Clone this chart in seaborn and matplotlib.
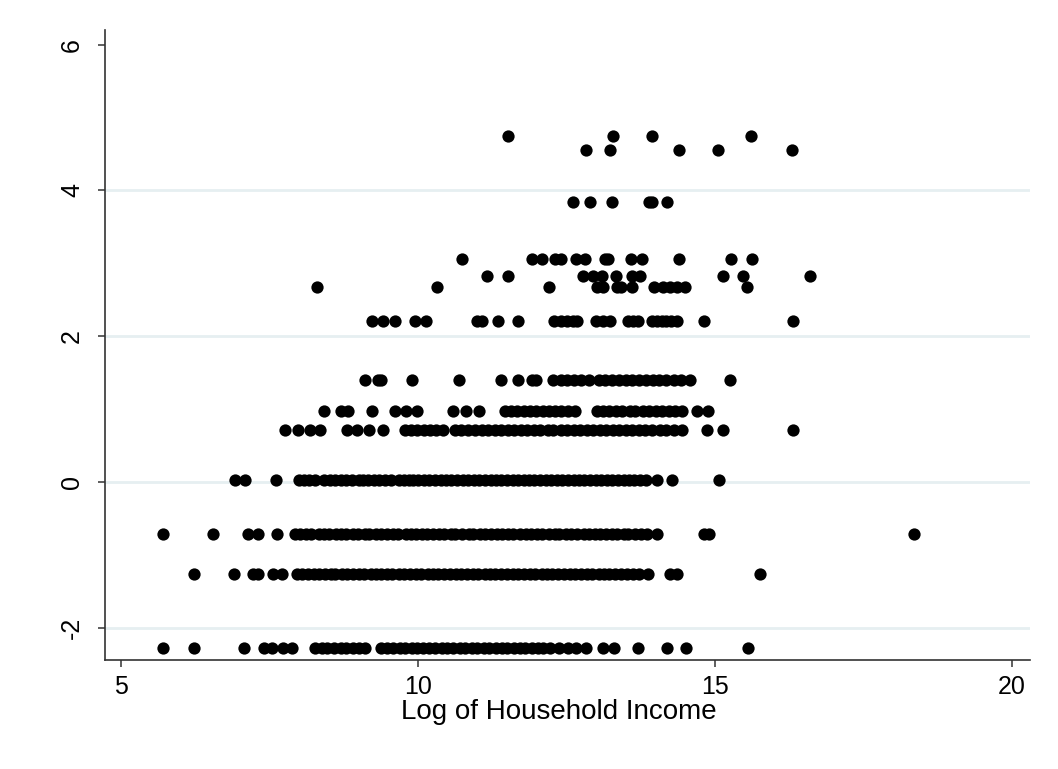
import pandas as pd
import matplotlib
matplotlib.use("Agg")
import matplotlib.pyplot as plt
import seaborn as sns

# rows of the scatter: y level and the x values
y_levels = [4.75, 4.56, 3.84, 3.06, 2.82, 2.68, 2.21, 1.40, 0.98, 0.72, 0.03, -0.71, -1.26, -2.27]

x_475 = [11.52, 13.28, 13.94, 15.60]
x_456 = [12.83, 13.23, 14.39, 15.05, 16.30]
x_384 = [12.61, 12.90, 13.27, 13.88, 13.93, 14.19]
x_306 = [10.74, 11.92, 12.08, 12.31, 12.40, 12.66, 12.81, 13.15, 13.20, 13.58, 13.77,
         14.39, 15.27, 15.62]
x_282 = [11.16, 11.52, 12.78, 12.95, 13.10, 13.33, 13.60, 13.74, 15.13, 15.47, 16.60]
x_268 = [8.30, 10.32, 12.20, 13.01, 13.11, 13.35, 13.42, 13.60, 13.98, 14.12, 14.24,
         14.36, 14.50, 15.54]
x_221 = [9.23, 9.41, 9.61, 9.95, 10.13, 10.99, 11.08, 11.35, 11.68, 12.29, 12.40, 12.50,
         12.60, 12.68, 13.00, 13.12, 13.23, 13.53, 13.62, 13.70, 13.94, 14.02, 14.10,
         14.18, 14.25, 14.36, 14.81, 16.31]
x_140 = [9.11, 9.32, 9.38, 9.90, 10.69, 11.40, 11.68, 11.92, 11.98, 12.27, 12.40, 12.50,
         12.62, 12.75, 12.88, 13.05, 13.15, 13.26, 13.38, 13.50, 13.60, 13.72, 13.84,
         13.95, 14.05, 14.18, 14.30, 14.42, 14.58, 15.25]
x_098 = [8.42, 8.70, 8.82, 9.23, 9.61, 9.80, 9.98, 10.59, 10.80, 11.02, 11.46, 11.56,
         11.66, 11.78, 11.88, 11.98, 12.10, 12.20, 12.30, 12.40, 12.52, 12.64, 13.01,
         13.12, 13.22, 13.34, 13.44, 13.56, 13.66, 13.78, 13.88, 14.00, 14.10, 14.22,
         14.32, 14.44, 14.70, 14.88]
x_072 = [7.76, 7.98, 8.18, 8.35, 8.80, 8.97, 9.18, 9.41, 9.78, 9.88, 9.98, 10.10, 10.20,
         10.30, 10.42, 10.62, 10.72, 10.84, 10.96, 11.08, 11.18, 11.30, 11.40, 11.52,
         11.62, 11.74, 11.84, 11.96, 12.06, 12.18, 12.28, 12.40, 12.50, 12.62, 12.72,
         12.84, 12.94, 13.06, 13.16, 13.28, 13.38, 13.50, 13.60, 13.72, 13.82, 13.94,
         14.07, 14.18, 14.30, 14.44, 14.87, 15.13, 16.31]
x_003 = [6.92, 7.09, 7.61, 7.99, 8.08, 8.17, 8.26, 8.42, 8.51, 8.60, 8.70, 8.79, 8.88,
         9.00, 9.07, 9.16, 9.26, 9.35, 9.44, 9.54, 9.68, 9.76, 9.84, 9.91, 10.00, 10.10,
         10.19, 10.28, 10.38, 10.47, 10.56, 10.66, 10.75, 10.84, 10.94, 11.03, 11.12,
         11.22, 11.31, 11.40, 11.50, 11.59, 11.68, 11.78, 11.87, 11.96, 12.06, 12.15,
         12.24, 12.34, 12.43, 12.52, 12.62, 12.71, 12.80, 12.90, 12.99, 13.08, 13.18,
         13.27, 13.36, 13.46, 13.55, 13.64, 13.74, 13.83, 14.02, 14.28, 15.07]
x_m071 = [5.71, 6.55, 7.14, 7.31, 7.63, 7.93, 8.02, 8.12, 8.20, 8.33, 8.42, 8.50, 8.62,
          8.70, 8.78, 8.91, 8.99, 9.10, 9.18, 9.30, 9.38, 9.47, 9.58, 9.66, 9.79, 9.88,
          9.96, 10.07, 10.15, 10.26, 10.36, 10.44, 10.55, 10.63, 10.74, 10.85, 10.93,
          11.04, 11.12, 11.23, 11.33, 11.41, 11.52, 11.60, 11.71, 11.82, 11.90, 12.01,
          12.09, 12.20, 12.30, 12.38, 12.49, 12.57, 12.68, 12.79, 12.87, 12.98, 13.06,
          13.17, 13.27, 13.35, 13.46, 13.54, 13.65, 13.76, 13.85, 14.02, 14.82, 14.90,
          18.35]
x_m126 = [6.23, 6.90, 7.22, 7.31, 7.56, 7.71, 7.96, 8.05, 8.14, 8.25, 8.33, 8.44, 8.53,
          8.61, 8.72, 8.81, 8.90, 9.01, 9.09, 9.20, 9.29, 9.38, 9.48, 9.57, 9.68, 9.77,
          9.86, 9.96, 10.05, 10.16, 10.25, 10.34, 10.44, 10.53, 10.64, 10.73, 10.82,
          10.92, 11.01, 11.12, 11.21, 11.30, 11.40, 11.49, 11.60, 11.69, 11.78, 11.88,
          11.97, 12.08, 12.17, 12.26, 12.36, 12.45, 12.56, 12.65, 12.74, 12.84, 12.93,
          13.04, 13.13, 13.22, 13.32, 13.41, 13.52, 13.61, 13.72, 13.87, 14.24, 14.36,
          15.76]
x_m227 = [5.71, 6.23, 7.07, 7.40, 7.55, 7.72, 7.88, 8.27, 8.38, 8.47, 8.58, 8.70, 8.79,
          8.90, 9.01, 9.10, 9.38, 9.47, 9.58, 9.69, 9.78, 9.89, 9.99, 10.08, 10.19, 10.29,
          10.40, 10.48, 10.59, 10.70, 10.79, 10.90, 11.00, 11.11, 11.20, 11.31, 11.41,
          11.50, 11.61, 11.72, 11.80, 11.91, 12.02, 12.11, 12.22, 12.38, 12.52, 12.66,
          12.82, 13.12, 13.30, 13.70, 14.19, 14.51, 15.55]

rows = [x_475, x_456, x_384, x_306, x_282, x_268, x_221, x_140, x_098, x_072,
        x_003, x_m071, x_m126, x_m227]

xs, ys = [], []
for lev, vals in zip(y_levels, rows):
    xs += vals
    ys += [lev] * len(vals)
data = pd.DataFrame({"income": xs, "value": ys})

sns.set_style("white")
plt.rcParams["font.family"] = ["Liberation Sans", "DejaVu Sans"]
plt.rcParams["axes.unicode_minus"] = False
plt.rcParams["text.color"] = "black"
plt.rcParams["xtick.color"] = "black"
plt.rcParams["ytick.color"] = "black"
plt.rcParams["axes.labelcolor"] = "black"

fig = plt.figure(figsize=(10.58, 7.69), dpi=100)
ax = fig.add_axes([0.0992, 0.1417, 0.8743, 0.8193])

sns.scatterplot(data=data, x="income", y="value", color="black", s=78,
                linewidth=0, ax=ax, zorder=3)

ax.set_xlim(4.73, 20.3)
ax.set_ylim(-2.44, 6.2)
ax.set_xticks([5, 10, 15, 20])
ax.set_yticks([-2, 0, 2, 4, 6])
ax.set_yticklabels(["-2", "0", "2", "4", "6"], rotation=90, va="center")

ax.yaxis.grid(True, color="#e6eff1", linewidth=2.0)
ax.get_ygridlines()[-1].set_visible(False)
ax.set_axisbelow(True)

for side in ["top", "right"]:
    ax.spines[side].set_visible(False)
for side in ["left", "bottom"]:
    ax.spines[side].set_color("#333333")
    ax.spines[side].set_linewidth(1.2)

ax.tick_params(axis="both", direction="out", length=5, width=1.1, color="#333333",
               labelsize=18, left=True, bottom=True)
ax.tick_params(axis="y", pad=10)
ax.tick_params(axis="x", pad=6)

ax.set_xlabel("Log of Household Income", fontsize=20)
ax.xaxis.set_label_coords(0.491, -0.062, transform=ax.transAxes)
ax.xaxis.label.set_va("top")
ax.set_ylabel("")

fig.savefig("out.png", dpi=100, facecolor="white")
